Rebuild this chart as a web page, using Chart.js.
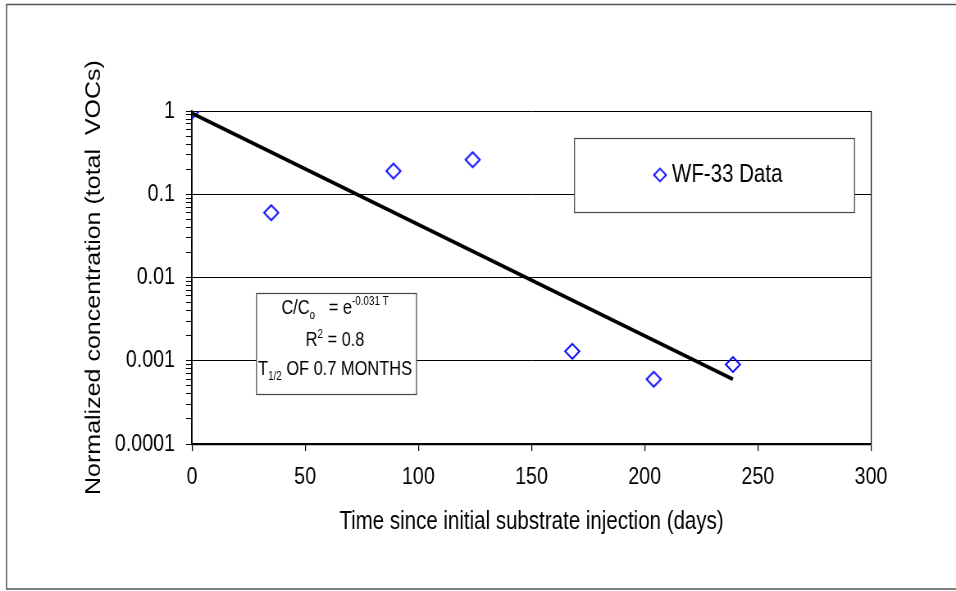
<!DOCTYPE html>
<html>
<head>
<meta charset="utf-8">
<script src="https://cdn.jsdelivr.net/npm/chart.js@4.4.1/dist/chart.umd.min.js"></script>
<style>
  html, body { margin: 0; padding: 0; background: #fff; overflow: hidden; }
  canvas { display: block; }
</style>
</head>
<body>
<!-- canvas plus large, compressé en largeur : imite la police condensée de l'original -->
<canvas id="myChart" width="1166" height="591" style="width:956px;height:591px"></canvas>
<script>

// DONNEES //

const days = [0, 35, 89, 124, 168, 204, 239];
const concentration = [1.0, 0.06, 0.19, 0.26, 0.0013, 0.0006, 0.0009];
const fitDays = [0, 239];
const fitConcentration = [0.94, 0.0006];
const xTicks = [0, 50, 100, 150, 200, 250, 300];
const yTickLabels = ['0.0001', '0.001', '0.01', '0.1', '1'];
const seriesName = 'WF-33 Data';
const xTitle = 'Time since initial substrate injection (days)';
const yTitle = 'Normalized concentration (total  VOCs)';

const SX = 956 / 1166;      // compression horizontale
const X = (px) => px / SX;  // px ecran -> unites du canvas
const family = '"Liberation Sans", Arial, sans-serif';

Chart.defaults.font.family = family;
Chart.defaults.color = '#000';

const decades = yTickLabels.map(Number);
const isDecade = (v) => decades.some(d => Math.abs(d - v) < d * 1e-6);
const yTicks = [];
decades.forEach((d, i) => {
  if (i === decades.length - 1) { yTicks.push(d); return; }
  for (let k = 1; k < 10; k++) yTicks.push(Math.round(d * k * 1e6) / 1e6);
});

// losange (largeur compensee)
const makeDiamond = (w, h, lw) => {
  const cv = document.createElement('canvas');
  cv.width = Math.ceil(X(w)) + 2;
  cv.height = h + 2;
  const c = cv.getContext('2d');
  const cx = cv.width / 2, cy = cv.height / 2, hw = X(w) / 2 - 1, hh = h / 2 - 1;
  c.strokeStyle = '#0000FF';
  c.lineWidth = lw;
  c.beginPath();
  c.moveTo(cx - hw, cy); c.lineTo(cx, cy - hh); c.lineTo(cx + hw, cy); c.lineTo(cx, cy + hh);
  c.closePath();
  c.stroke();
  return cv;
};
const diamond = makeDiamond(16, 17, 1.8);
const legendDiamond = makeDiamond(14, 15, 1.7);


// CADRE + ANNOTATIONS //

const frame = {
  id: 'frame',
  beforeDraw(chart) {
    const c = chart.ctx;
    c.save();
    c.fillStyle = '#fff';
    c.fillRect(0, 0, chart.width, chart.height);
    c.strokeStyle = '#555';
    c.lineWidth = 1.5;
    c.strokeRect(X(6.5), 4.5, 1200, 584.5);
    c.restore();
  },
  afterDraw(chart) {
    const c = chart.ctx;
    c.save();

    // legende
    c.fillStyle = '#fff';
    c.fillRect(X(574.5), 138.5, X(280), 74);
    c.strokeStyle = '#444';
    c.lineWidth = 1.2;
    c.strokeRect(X(574.5), 138.5, X(280), 74);
    c.drawImage(legendDiamond, X(660) - legendDiamond.width / 2, 175 - legendDiamond.height / 2);
    c.fillStyle = '#000';
    c.font = '25px ' + family;
    c.textAlign = 'left';
    c.textBaseline = 'alphabetic';
    c.fillText(seriesName, X(672), 182);

    // equation
    c.fillStyle = '#fff';
    c.fillRect(X(256.5), 293.5, X(160), 101);
    c.strokeStyle = '#444';
    c.strokeRect(X(256.5), 293.5, X(160), 101);

    const lines = [
      { y: 314, parts: [['C/C', 1, 0], ['o', 0.62, 5], ['   = e', 1, 0], ['-0.031 T', 0.62, -9]] },
      { y: 346, parts: [['R', 1, 0], ['2', 0.62, -8], [' = 0.8', 1, 0]] },
      { y: 375, parts: [['T', 1, 0], ['1/2', 0.62, 5], [' OF 0.7 MONTHS', 1, 0]] }
    ];
    const base = 20;
    c.fillStyle = '#000';
    lines.forEach(line => {
      let total = 0;
      line.parts.forEach(p => {
        c.font = Math.round(base * p[1]) + 'px ' + family;
        total += c.measureText(p[0]).width;
      });
      let x = X(335) - total / 2;
      line.parts.forEach(p => {
        c.font = Math.round(base * p[1]) + 'px ' + family;
        c.fillText(p[0], x, line.y + p[2]);
        x += c.measureText(p[0]).width;
      });
    });
    c.restore();
  }
};


// GRAPHIQUE //

const ctx = document.getElementById('myChart');

new Chart(ctx, {
  type: 'scatter',
  data: {
    datasets: [
      {
        label: 'fit',
        data: fitDays.map((d, i) => ({ x: d, y: fitConcentration[i] })),
        showLine: true,
        borderColor: '#000',
        borderWidth: 3.8,
        pointRadius: 0,
        order: 1
      },
      {
        label: seriesName,
        data: days.map((d, i) => ({ x: d, y: concentration[i] })),
        pointStyle: diamond,
        pointRadius: 8,
        order: 2
      }
    ]
  },
  options: {
    responsive: false,
    animation: false,
    events: [],
    layout: {
      padding: { left: 0, top: 111, right: X(85), bottom: 0 }
    },
    plugins: {
      legend: false,
      tooltip: { enabled: false }
    },
    scales: {
      x: {
        type: 'linear',
        min: 0,
        max: 300,
        afterFit: (s) => { s.height = 147; },
        afterBuildTicks: (s) => { s.ticks = xTicks.map(v => ({ value: v })); },
        border: { color: '#000', width: 2.2 },
        grid: {
          color: (c) => (c.tick && c.tick.value === 300) ? '#000' : 'rgba(0,0,0,0)',
          tickColor: '#000',
          tickLength: 7,
          lineWidth: X(1),
          tickWidth: X(1)
        },
        ticks: {
          padding: 12,
          font: { size: 24 },
          color: '#000',
          maxRotation: 0
        },
        title: {
          display: true,
          text: xTitle,
          font: { size: 25 },
          color: '#000',
          padding: { top: 0, bottom: 54 }
        }
      },
      y: {
        type: 'logarithmic',
        min: 0.0001,
        max: 1,
        afterFit: (s) => { s.width = X(192); },
        afterBuildTicks: (s) => { s.ticks = yTicks.map(v => ({ value: v, major: isDecade(v) })); },
        border: { color: '#000', width: X(1.5) },
        grid: {
          color: (c) => (c.tick && isDecade(c.tick.value)) ? '#000' : 'rgba(0,0,0,0)',
          tickColor: '#000',
          tickLength: X(6),
          lineWidth: 1
        },
        ticks: {
          autoSkip: false,
          padding: X(11),
          font: { size: 24 },
          color: '#000',
          callback: (v) => yTickLabels.find(l => Math.abs(Number(l) - v) < v * 1e-6) || ''
        },
        title: {
          display: true,
          text: yTitle,
          font: { size: 25 },
          color: '#000',
          padding: { top: X(94) - 15, bottom: 0 }
        }
      }
    }
  },
  plugins: [frame]
});

</script>
</body>
</html>
